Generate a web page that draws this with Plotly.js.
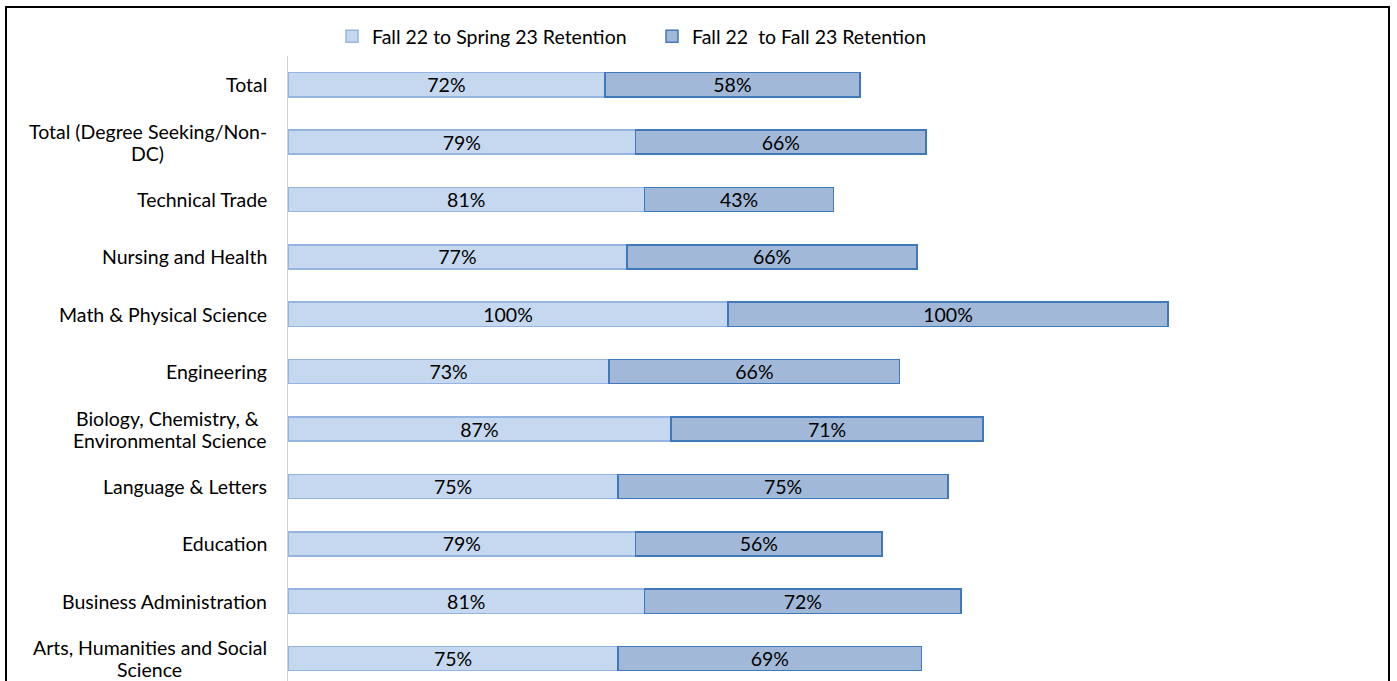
<!DOCTYPE html>
<html>
<head>
<meta charset="utf-8">
<script src="https://cdn.plot.ly/plotly-3.0.1.min.js"></script>
<style>
  body { margin: 0; background: #fff; }
  #chart { position: absolute; left: 0; top: 0; width: 1397px; height: 681px; }
  #frame { position: absolute; left: 5px; top: 6px; width: 1381px; height: 700px;
           border: 2px solid #000; pointer-events: none; }
</style>
</head>
<body>
<div id="chart"></div>
<div id="frame"></div>
<script>
// categories, top to bottom
const categories = [
  'Total',
  'Total (Degree Seeking/Non-<br>DC)',
  'Technical Trade',
  'Nursing and Health',
  'Math & Physical Science',
  'Engineering',
  'Biology, Chemistry, & <br>Environmental Science',
  'Language & Letters',
  'Education',
  'Business Administration',
  'Arts, Humanities and Social<br>Science'
];
const fallToSpring = [72, 79, 81, 77, 100, 73, 87, 75, 79, 81, 75];
const fallToFall = [58, 66, 43, 66, 100, 66, 71, 75, 56, 72, 69];
const seriesNames = ['Fall 22 to Spring 23 Retention', 'Fall 22 &nbsp;to Fall 23 Retention'];

const FONT = 'Lato, "Liberation Sans", sans-serif';
const FS = 19.5;

const data = [
  {
    type: 'bar',
    orientation: 'h',
    name: seriesNames[0],
    y: categories,
    x: fallToSpring,
    text: fallToSpring.map(v => v + '%'),
    textposition: 'inside',
    insidetextanchor: 'middle',
    constraintext: 'none',
    textfont: { family: FONT, size: FS, color: '#000' },
    marker: { color: '#c6d8ef', line: { color: '#95b5e0', width: 1.5 } },
    hoverinfo: 'x+y'
  },
  {
    type: 'bar',
    orientation: 'h',
    name: seriesNames[1],
    y: categories,
    x: fallToFall,
    text: fallToFall.map(v => v + '%'),
    textposition: 'inside',
    insidetextanchor: 'middle',
    constraintext: 'none',
    textfont: { family: FONT, size: FS, color: '#000' },
    marker: { color: '#a2b8d8', line: { color: '#4079b9', width: 1.5 } },
    hoverinfo: 'x+y'
  }
];

// category labels: one annotation per line (tight line spacing),
// multi-line labels centred as a block, right edge at the gap before the axis
const LINE = 22;
const GAP = 19;
const ctx = document.createElement('canvas').getContext('2d');
ctx.font = FS + 'px Lato';

const labelNotes = [];
categories.forEach(c => {
  const lines = c.split('<br>');
  const maxW = Math.max(...lines.map(ln => ctx.measureText(ln).width));
  lines.forEach((ln, i) => {
    const single = lines.length === 1;
    labelNotes.push({
      xref: 'paper', yref: 'y',
      x: 0, y: c,
      xanchor: single ? 'right' : 'center',
      xshift: single ? -GAP : -GAP - 2 - maxW / 2 - (ln.endsWith(' ') ? ctx.measureText(' ').width / 2 : 0),
      yshift: ((lines.length - 1) / 2 - i) * LINE,
      text: ln.trim(),
      showarrow: false,
      font: { family: FONT, size: FS, color: '#000' }
    });
  });
});

const layout = {
  width: 1397,
  height: 681,
  margin: { l: 288, r: 9, t: 56, b: 0 },
  paper_bgcolor: '#fff',
  plot_bgcolor: '#fff',
  barmode: 'stack',
  bargap: 0.58,
  showlegend: true,
  legend: {
    orientation: 'h',
    x: 0.04, xanchor: 'left',
    y: 1.0, yanchor: 'bottom',
    font: { family: FONT, size: FS, color: '#000' },
    traceorder: 'normal',
    itemwidth: 30,
    entrywidth: 275
  },
  xaxis: {
    range: [0, 250],
    showgrid: false,
    zeroline: false,
    showticklabels: false,
    showline: false,
    fixedrange: true
  },
  yaxis: {
    type: 'category',
    range: [10.39, -0.5],
    showticklabels: false,
    showgrid: false,
    zeroline: false,
    showline: true,
    linecolor: '#d0d0d0',
    linewidth: 1,
    ticks: '',
    fixedrange: true
  },
  annotations: labelNotes,
  font: { family: FONT, size: FS, color: '#000' }
};

Plotly.newPlot('chart', data, layout, { displayModeBar: false, staticPlot: true });
</script>
</body>
</html>
